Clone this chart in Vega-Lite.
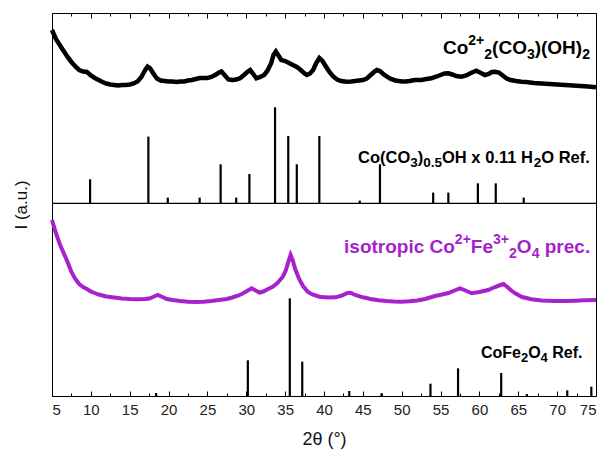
{
  "$schema": "https://vega.github.io/schema/vega-lite/v6.json",
  "width": 544,
  "height": 383,
  "autosize": {"type": "none"},
  "padding": {"left": 52, "top": 13, "right": 9, "bottom": 63},
  "background": "white",
  "config": {
    "view": {"stroke": "#000", "strokeWidth": 1},
    "font": "Liberation Sans",
    "axis": {"grid": false},
    "text": {"font": "Liberation Sans", "fontWeight": "bold", "align": "left", "baseline": "alphabetic"}
  },
  "datasets": {
    "hydroxide": [
      {"t":5.0,"I":366},{"t":5.5,"I":357},{"t":6.0,"I":351},{"t":6.5,"I":345},{"t":7.0,"I":339},{"t":7.5,"I":334},{"t":8.0,"I":329.5},{"t":8.5,"I":326},{"t":9.0,"I":324.5},{"t":9.5,"I":324},{"t":10.0,"I":320.5},{"t":10.5,"I":318},{"t":11.0,"I":316},{"t":11.5,"I":314},{"t":12.0,"I":312.5},{"t":12.5,"I":311.5},{"t":13.0,"I":311},{"t":13.5,"I":310.5},{"t":14.0,"I":311},{"t":14.5,"I":311},{"t":15.0,"I":311.5},{"t":15.5,"I":312.5},{"t":16.0,"I":314.5},{"t":16.5,"I":319},{"t":17.0,"I":326},{"t":17.3,"I":329.5},{"t":17.6,"I":328},{"t":18.0,"I":323},{"t":18.5,"I":317.5},{"t":19.0,"I":315.5},{"t":19.5,"I":315},{"t":20.0,"I":314.5},{"t":20.5,"I":314.5},{"t":21.0,"I":314},{"t":21.5,"I":314.5},{"t":22.0,"I":314.5},{"t":22.5,"I":315.5},{"t":23.0,"I":316},{"t":23.5,"I":317},{"t":24.0,"I":318},{"t":24.5,"I":318},{"t":25.0,"I":318},{"t":25.5,"I":319},{"t":26.0,"I":321},{"t":26.5,"I":323.5},{"t":26.8,"I":324.5},{"t":27.2,"I":321},{"t":27.7,"I":316.5},{"t":28.2,"I":316},{"t":28.7,"I":316.5},{"t":29.2,"I":317.7},{"t":29.7,"I":321},{"t":30.2,"I":324.5},{"t":30.5,"I":326},{"t":30.9,"I":322},{"t":31.3,"I":317.7},{"t":31.8,"I":319},{"t":32.3,"I":321},{"t":32.7,"I":325},{"t":33.2,"I":332.7},{"t":33.5,"I":341},{"t":33.8,"I":344.5},{"t":34.1,"I":341},{"t":34.5,"I":336},{"t":35.0,"I":335},{"t":35.5,"I":333},{"t":36.0,"I":331},{"t":36.5,"I":329},{"t":37.0,"I":326},{"t":37.5,"I":322.5},{"t":37.8,"I":321},{"t":38.2,"I":322.5},{"t":38.6,"I":326},{"t":39.0,"I":333},{"t":39.4,"I":338},{"t":39.8,"I":335},{"t":40.2,"I":330},{"t":40.7,"I":324},{"t":41.2,"I":319.3},{"t":41.7,"I":316.5},{"t":42.2,"I":315},{"t":42.9,"I":314.3},{"t":43.5,"I":314.5},{"t":44.0,"I":315},{"t":44.5,"I":315.5},{"t":45.0,"I":316},{"t":45.5,"I":317.5},{"t":46.0,"I":321},{"t":46.5,"I":324.5},{"t":46.8,"I":326},{"t":47.2,"I":325},{"t":47.7,"I":321.5},{"t":48.1,"I":319.3},{"t":48.6,"I":317},{"t":49.2,"I":315.5},{"t":50.0,"I":314.5},{"t":50.5,"I":314.5},{"t":51.0,"I":315},{"t":51.7,"I":316},{"t":52.5,"I":316},{"t":53.2,"I":317},{"t":53.8,"I":317.7},{"t":54.5,"I":319.5},{"t":55.0,"I":321},{"t":55.5,"I":322.5},{"t":56.0,"I":322.7},{"t":56.5,"I":321.5},{"t":57.0,"I":320},{"t":57.7,"I":319.3},{"t":58.3,"I":320.5},{"t":58.9,"I":323},{"t":59.6,"I":325.3},{"t":60.2,"I":323},{"t":60.7,"I":321},{"t":61.2,"I":322},{"t":61.6,"I":324},{"t":62.0,"I":324.3},{"t":62.5,"I":323.5},{"t":63.0,"I":320.5},{"t":63.5,"I":317.5},{"t":64.0,"I":316},{"t":64.7,"I":315},{"t":65.4,"I":314.3},{"t":66.0,"I":314},{"t":67.0,"I":313},{"t":68.0,"I":312.5},{"t":69.0,"I":312},{"t":70.0,"I":311.5},{"t":71.0,"I":311},{"t":72.0,"I":310.5},{"t":73.0,"I":310},{"t":74.0,"I":309.5},{"t":75.0,"I":308.7}
    ],
    "ferrite": [
      {"t":5.0,"I":176},{"t":5.5,"I":163},{"t":6.0,"I":152},{"t":6.5,"I":143},{"t":7.0,"I":134},{"t":7.5,"I":124},{"t":8.0,"I":117},{"t":8.5,"I":112},{"t":9.0,"I":109},{"t":9.5,"I":107},{"t":10.0,"I":104.5},{"t":10.5,"I":103},{"t":11.0,"I":101.5},{"t":11.5,"I":100.5},{"t":12.0,"I":99.5},{"t":12.5,"I":99},{"t":13.0,"I":98.5},{"t":14.0,"I":97.5},{"t":15.0,"I":97},{"t":16.0,"I":96.7},{"t":17.0,"I":97},{"t":17.5,"I":97.5},{"t":18.0,"I":99},{"t":18.6,"I":101},{"t":19.2,"I":99},{"t":19.8,"I":97},{"t":20.5,"I":96},{"t":21.5,"I":95},{"t":22.5,"I":94.3},{"t":23.5,"I":94},{"t":24.5,"I":94.3},{"t":25.5,"I":95},{"t":26.5,"I":96},{"t":27.5,"I":97},{"t":28.2,"I":98.5},{"t":29.0,"I":100.5},{"t":29.6,"I":102.7},{"t":30.2,"I":105.5},{"t":30.7,"I":107.7},{"t":31.2,"I":105.5},{"t":31.7,"I":103.5},{"t":32.2,"I":104.5},{"t":32.8,"I":107},{"t":33.4,"I":109.3},{"t":34.0,"I":113},{"t":34.7,"I":119.3},{"t":35.1,"I":126},{"t":35.4,"I":134},{"t":35.7,"I":141},{"t":36.0,"I":135},{"t":36.3,"I":127},{"t":36.8,"I":117},{"t":37.3,"I":110},{"t":37.9,"I":104.3},{"t":38.5,"I":101.5},{"t":39.4,"I":99.3},{"t":40.5,"I":98.5},{"t":41.5,"I":98.7},{"t":42.3,"I":100.5},{"t":43.0,"I":103},{"t":43.4,"I":103.3},{"t":44.0,"I":101},{"t":45.0,"I":98.7},{"t":46.0,"I":97},{"t":47.0,"I":95.7},{"t":48.0,"I":95},{"t":49.0,"I":94.5},{"t":50.0,"I":94.3},{"t":51.0,"I":94.7},{"t":52.0,"I":95.5},{"t":53.0,"I":97},{"t":54.3,"I":100},{"t":55.2,"I":101.5},{"t":56.0,"I":103},{"t":56.8,"I":105.5},{"t":57.5,"I":107.7},{"t":58.2,"I":105.5},{"t":59.0,"I":102.7},{"t":60.0,"I":104},{"t":61.1,"I":106},{"t":62.0,"I":109},{"t":62.7,"I":111},{"t":63.1,"I":112},{"t":63.6,"I":109},{"t":64.1,"I":105.5},{"t":64.6,"I":102.7},{"t":65.5,"I":99},{"t":66.7,"I":96.7},{"t":68.0,"I":95.5},{"t":69.7,"I":95},{"t":71.0,"I":95},{"t":72.3,"I":95.3},{"t":73.5,"I":95.7},{"t":75.0,"I":96}
    ],
    "refTop": [
      {"t":9.9,"I":216.7},{"t":17.4,"I":259.4},{"t":19.9,"I":198.4},{"t":24.0,"I":198.4},{"t":26.7,"I":231.7},{"t":28.7,"I":198.4},{"t":30.4,"I":222},{"t":33.7,"I":288.7},{"t":35.4,"I":260},{"t":36.5,"I":231.7},{"t":39.4,"I":260},{"t":44.6,"I":195.4},{"t":47.2,"I":231.7},{"t":54.05,"I":203.4},{"t":56.0,"I":203.4},{"t":59.8,"I":212.7},{"t":62.1,"I":212.7},{"t":65.7,"I":198.4}
    ],
    "refBottom": [
      {"t":18.4,"I":3},{"t":30.2,"I":35.7},{"t":35.6,"I":97.7},{"t":37.2,"I":34.3},{"t":43.25,"I":5},{"t":47.4,"I":2.7},{"t":53.7,"I":12.3},{"t":57.25,"I":27.7},{"t":62.8,"I":23},{"t":66.1,"I":2},{"t":71.3,"I":5.7},{"t":74.4,"I":9.3}
    ]
  },
  "resolve": {"axis": {"x": "independent", "y": "independent"}},
  "layer": [
    {
      "data": {"name": "hydroxide"},
      "mark": {"type": "line", "color": "#000", "strokeWidth": 4.5},
      "encoding": {
        "x": {"field": "t", "type": "quantitative", "scale": {"domain": [5, 75], "nice": false, "zero": false},
          "axis": {"orient": "bottom", "values": [5,10,15,20,25,30,35,40,45,50,55,60,65,70,75], "tickSize": -5, "tickColor": "#000", "domainColor": "#000", "labelFontSize": 15, "labelColor": "#222", "labelPadding": 11, "labelFont": "Liberation Sans", "title": "2θ (°)", "titleFontSize": 18, "titleFontWeight": "normal", "titleColor": "#111", "titlePadding": 13, "titleFont": "Liberation Sans"}},
        "y": {"field": "I", "type": "quantitative", "scale": {"domain": [0, 383], "nice": false, "zero": false},
          "axis": {"title": "I (a.u.)", "labels": false, "ticks": false, "domain": false, "titleFontSize": 17, "titleFontWeight": "normal", "titleColor": "#111", "titlePadding": 22, "titleFont": "Liberation Sans"}}
      }
    },
    {
      "data": {"name": "ferrite"},
      "mark": {"type": "line", "color": "#a722cc", "strokeWidth": 4},
      "encoding": {
        "x": {"field": "t", "type": "quantitative", "scale": {"domain": [5, 75], "nice": false, "zero": false},
          "axis": {"orient": "bottom", "values": [7.5,12.5,17.5,22.5,27.5,32.5,37.5,42.5,47.5,52.5,57.5,62.5,67.5,72.5], "tickSize": -3, "tickColor": "#000", "labels": false, "domain": false, "title": null}},
        "y": {"field": "I", "type": "quantitative", "scale": {"domain": [0, 383], "nice": false, "zero": false}, "axis": null}
      }
    },
    {
      "data": {"name": "refTop"},
      "mark": {"type": "rule", "color": "#000", "strokeWidth": 2.2},
      "encoding": {
        "x": {"field": "t", "type": "quantitative", "scale": {"domain": [5, 75], "nice": false, "zero": false},
          "axis": {"orient": "top", "values": [5,10,15,20,25,30,35,40,45,50,55,60,65,70,75], "tickSize": -5, "tickColor": "#000", "labels": false, "domain": false, "title": null}},
        "y": {"field": "I", "type": "quantitative", "scale": {"domain": [0, 383], "nice": false, "zero": false}, "axis": null},
        "y2": {"datum": 192.7}
      }
    },
    {
      "data": {"name": "refBottom"},
      "mark": {"type": "rule", "color": "#000", "strokeWidth": 2.2},
      "encoding": {
        "x": {"field": "t", "type": "quantitative", "scale": {"domain": [5, 75], "nice": false, "zero": false},
          "axis": {"orient": "top", "values": [7.5,12.5,17.5,22.5,27.5,32.5,37.5,42.5,47.5,52.5,57.5,62.5,67.5,72.5], "tickSize": -3, "tickColor": "#000", "labels": false, "domain": false, "title": null}},
        "y": {"field": "I", "type": "quantitative", "scale": {"domain": [0, 383], "nice": false, "zero": false}, "axis": null},
        "y2": {"datum": 0}
      }
    },
    {
      "data": {"values": [{"I": 192.7}]},
      "mark": {"type": "rule", "color": "#000", "strokeWidth": 1.2},
      "encoding": {
        "y": {"field": "I", "type": "quantitative", "scale": {"domain": [0, 383], "nice": false, "zero": false}, "axis": null}
      }
    },
    {
      "data": {"values": [{"t": 55.31, "I": 342}]},
      "encoding": {
        "x": {"field": "t", "type": "quantitative", "scale": {"domain": [5, 75], "nice": false, "zero": false}, "axis": null},
        "y": {"field": "I", "type": "quantitative", "scale": {"domain": [0, 383], "nice": false, "zero": false}, "axis": null}
      },
      "layer": [
        {"mark": {"type": "text", "fontSize": 19, "dx": 0}, "encoding": {"text": {"value": "Co"}}},
        {"mark": {"type": "text", "fontSize": 14, "dx": 25.3, "dy": -9}, "encoding": {"text": {"value": "2+"}}},
        {"mark": {"type": "text", "fontSize": 14, "dx": 41.3, "dy": 5}, "encoding": {"text": {"value": "2"}}},
        {"mark": {"type": "text", "fontSize": 19, "dx": 49.1}, "encoding": {"text": {"value": "(CO"}}},
        {"mark": {"type": "text", "fontSize": 14, "dx": 83.9, "dy": 5}, "encoding": {"text": {"value": "3"}}},
        {"mark": {"type": "text", "fontSize": 19, "dx": 91.7}, "encoding": {"text": {"value": ")(OH)"}}},
        {"mark": {"type": "text", "fontSize": 14, "dx": 139.2, "dy": 5}, "encoding": {"text": {"value": "2"}}}
      ]
    },
    {
      "data": {"values": [{"t": 44.38, "I": 233.3}]},
      "encoding": {
        "x": {"field": "t", "type": "quantitative", "scale": {"domain": [5, 75], "nice": false, "zero": false}, "axis": null},
        "y": {"field": "I", "type": "quantitative", "scale": {"domain": [0, 383], "nice": false, "zero": false}, "axis": null}
      },
      "layer": [
        {"mark": {"type": "text", "fontSize": 16.5, "dx": 0}, "encoding": {"text": {"value": "Co(CO"}}},
        {"mark": {"type": "text", "fontSize": 13.5, "dx": 52.2, "dy": 4}, "encoding": {"text": {"value": "3"}}},
        {"mark": {"type": "text", "fontSize": 16.5, "dx": 59.7}, "encoding": {"text": {"value": ")"}}},
        {"mark": {"type": "text", "fontSize": 13.5, "dx": 65.2, "dy": 4}, "encoding": {"text": {"value": "0.5"}}},
        {"mark": {"type": "text", "fontSize": 16.5, "dx": 84.0}, "encoding": {"text": {"value": "OH x 0.11 H"}}},
        {"mark": {"type": "text", "fontSize": 13.5, "dx": 175.7, "dy": 4}, "encoding": {"text": {"value": "2"}}},
        {"mark": {"type": "text", "fontSize": 16.5, "dx": 183.2}, "encoding": {"text": {"value": "O Ref."}}}
      ]
    },
    {
      "data": {"values": [{"t": 42.58, "I": 142.7}]},
      "encoding": {
        "x": {"field": "t", "type": "quantitative", "scale": {"domain": [5, 75], "nice": false, "zero": false}, "axis": null},
        "y": {"field": "I", "type": "quantitative", "scale": {"domain": [0, 383], "nice": false, "zero": false}, "axis": null}
      },
      "layer": [
        {"mark": {"type": "text", "fontSize": 19, "color": "#a51fcb", "dx": 0}, "encoding": {"text": {"value": "isotropic Co"}}},
        {"mark": {"type": "text", "fontSize": 14, "color": "#a51fcb", "dx": 110.8, "dy": -9}, "encoding": {"text": {"value": "2+"}}},
        {"mark": {"type": "text", "fontSize": 19, "color": "#a51fcb", "dx": 126.8}, "encoding": {"text": {"value": "Fe"}}},
        {"mark": {"type": "text", "fontSize": 14, "color": "#a51fcb", "dx": 149.0, "dy": -9}, "encoding": {"text": {"value": "3+"}}},
        {"mark": {"type": "text", "fontSize": 14, "color": "#a51fcb", "dx": 165.0, "dy": 5}, "encoding": {"text": {"value": "2"}}},
        {"mark": {"type": "text", "fontSize": 19, "color": "#a51fcb", "dx": 172.8}, "encoding": {"text": {"value": "O"}}},
        {"mark": {"type": "text", "fontSize": 14, "color": "#a51fcb", "dx": 187.6, "dy": 5}, "encoding": {"text": {"value": "4"}}},
        {"mark": {"type": "text", "fontSize": 19, "color": "#a51fcb", "dx": 200.7}, "encoding": {"text": {"value": "prec."}}}
      ]
    },
    {
      "data": {"values": [{"t": 60.2, "I": 37.7}]},
      "encoding": {
        "x": {"field": "t", "type": "quantitative", "scale": {"domain": [5, 75], "nice": false, "zero": false}, "axis": null},
        "y": {"field": "I", "type": "quantitative", "scale": {"domain": [0, 383], "nice": false, "zero": false}, "axis": null}
      },
      "layer": [
        {"mark": {"type": "text", "fontSize": 16, "dx": 0}, "encoding": {"text": {"value": "CoFe"}}},
        {"mark": {"type": "text", "fontSize": 13, "dx": 40, "dy": 4}, "encoding": {"text": {"value": "2"}}},
        {"mark": {"type": "text", "fontSize": 16, "dx": 47.2}, "encoding": {"text": {"value": "O"}}},
        {"mark": {"type": "text", "fontSize": 13, "dx": 59.6, "dy": 4}, "encoding": {"text": {"value": "4"}}},
        {"mark": {"type": "text", "fontSize": 16, "dx": 71.2}, "encoding": {"text": {"value": "Ref."}}}
      ]
    }
  ]
}
